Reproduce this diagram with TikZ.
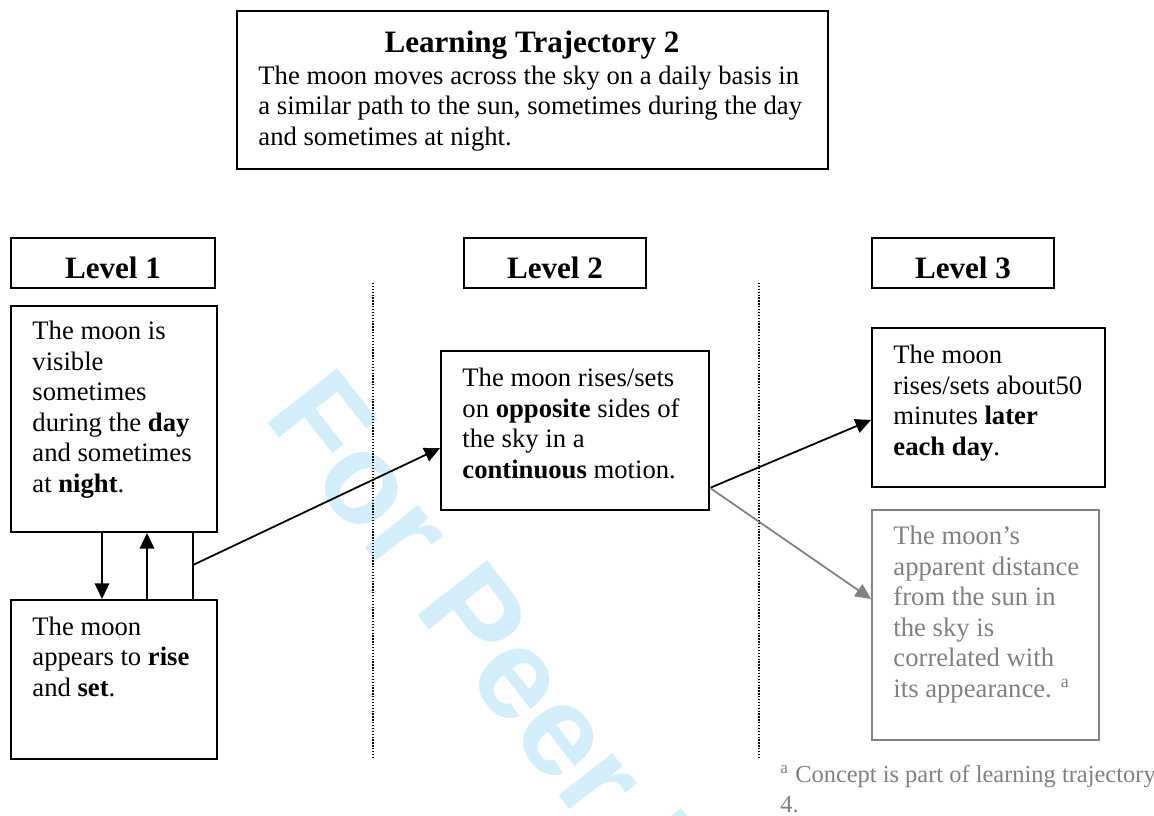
\documentclass[tikz,border=0pt]{standalone}
\usepackage{fontspec}
\setmainfont{Liberation Serif}
\newfontfamily\wmfont{Liberation Sans}
\usetikzlibrary{arrows.meta}
\usetikzlibrary{positioning}

\definecolor{wmblue}{RGB}{212,239,252}
\definecolor{faded}{RGB}{128,128,128}

\tikzset{
  boxsize/.style 2 args={minimum width=#1*0.45pt, minimum height=#2*0.45pt},
  box/.style={draw, line width=0.9pt, inner sep=0pt},
  lvl/.style={box, text height=14pt, text depth=0pt, font=\fontsize{14}{16}\selectfont\bfseries},
  % anchored at the baseline of the last line
  txt/.style={anchor=base west, inner sep=0pt, align=left, font=\fontsize{12}{13.7}\selectfont},
  arr/.style={-{Triangle[length=7pt, width=6.5pt]}, line width=0.8pt},
  wmark/.style={anchor=base west, inner sep=0pt, rotate=-52, text=wmblue, font=\wmfont\bfseries\fontsize{58}{60}\selectfont},
}

\begin{document}
\begin{tikzpicture}[x=0.45pt, y=-0.45pt]
  \useasboundingbox (0,0) rectangle (1154,815);

  % watermark behind everything
  \begin{scope}
    \clip (0,0) rectangle (1154,815);
    \node[wmark] (wm) at (262,416) {For Peer Review};
  \end{scope}

  % title box
  \node[box, boxsize={591}{158}] (lt) at (532.5,90) {};
  \node[anchor=base, inner sep=0pt, font=\fontsize{14}{16}\selectfont\bfseries] (lt-title) at (532,52) {Learning Trajectory 2};
  \node[txt] (lt-text) at (258,145) {The moon moves across the sky on a daily basis in\\a similar path to the sun, sometimes during the day\\and sometimes at night.};

  % level headings
  \node[lvl, boxsize={204}{50}] (lev1) at (113,263) {Level 1};
  \node[lvl, boxsize={182}{50}] (lev2) at (555,263) {Level 2};
  \node[lvl, boxsize={182}{50}] (lev3) at (963,263) {Level 3};

  % dividers
  \draw[line width=0.6pt, dash pattern=on 0.6pt off 0.7pt] (373,283) -- (373,757);
  \draw[line width=0.6pt, dash pattern=on 0.6pt off 0.7pt] (759,283) -- (759,757);

  % level 1
  \node[box, boxsize={206}{226}] (l1a) at (114,419) {};
  \node[txt] (l1a-text) at (32,492) {The moon is\\visible\\sometimes\\during the \textbf{day}\\and sometimes\\at \textbf{night}.};
  \node[box, boxsize={206}{159}] (l1b) at (114,679.5) {};
  \node[txt] (l1b-text) at (32,696) {The moon\\appears to \textbf{rise}\\and \textbf{set}.};

  % level 2
  \node[box, boxsize={268}{159}] (l2) at (575,430.5) {};
  \node[txt] (l2-text) at (462,478) {The moon rises/sets\\on \textbf{opposite} sides of\\the sky in a\\\textbf{continuous} motion.};

  % level 3
  \node[box, boxsize={233}{159}] (l3a) at (988.5,407.5) {};
  \node[txt] (l3a-text) at (893,455) {The moon\\rises/sets about50\\minutes \textbf{later}\\\textbf{each day}.};
  \node[box, draw=faded, boxsize={227}{230}] (l3b) at (985.5,625) {};
  \node[txt, text=faded] (l3b-text) at (893,697) {The moon’s\\apparent distance\\from the sun in\\the sky is\\correlated with\\its appearance. \textsuperscript{a}};

  % footnote
  \node[txt, text=faded, font=\fontsize{11}{13.2}\selectfont] (note) at (780,812) {\textsuperscript{a} Concept is part of learning trajectory\\4.};

  % connectors
  \coordinate (dn) at (102,566);
  \coordinate (up) at (147,566);
  \coordinate (lk) at (193,565);
  \draw[arr] (dn |- l1a.south) -- (dn |- l1b.north);
  \draw[arr] (up |- l1b.north) -- (up |- l1a.south);
  \draw[line width=0.8pt] (lk |- l1a.south) -- (lk |- l1b.north);
  \draw[arr] (lk) -- ([yshift=-7.9pt]l2.west);
  \coordinate (fork) at ([yshift=10.4pt]l2.south east);
  \draw[arr] (fork) -- ([yshift=-5.6pt]l3a.west);
  \draw[arr, draw=faded, fill=faded] (fork) -- ([yshift=11.7pt]l3b.west);
\end{tikzpicture}
\end{document}
